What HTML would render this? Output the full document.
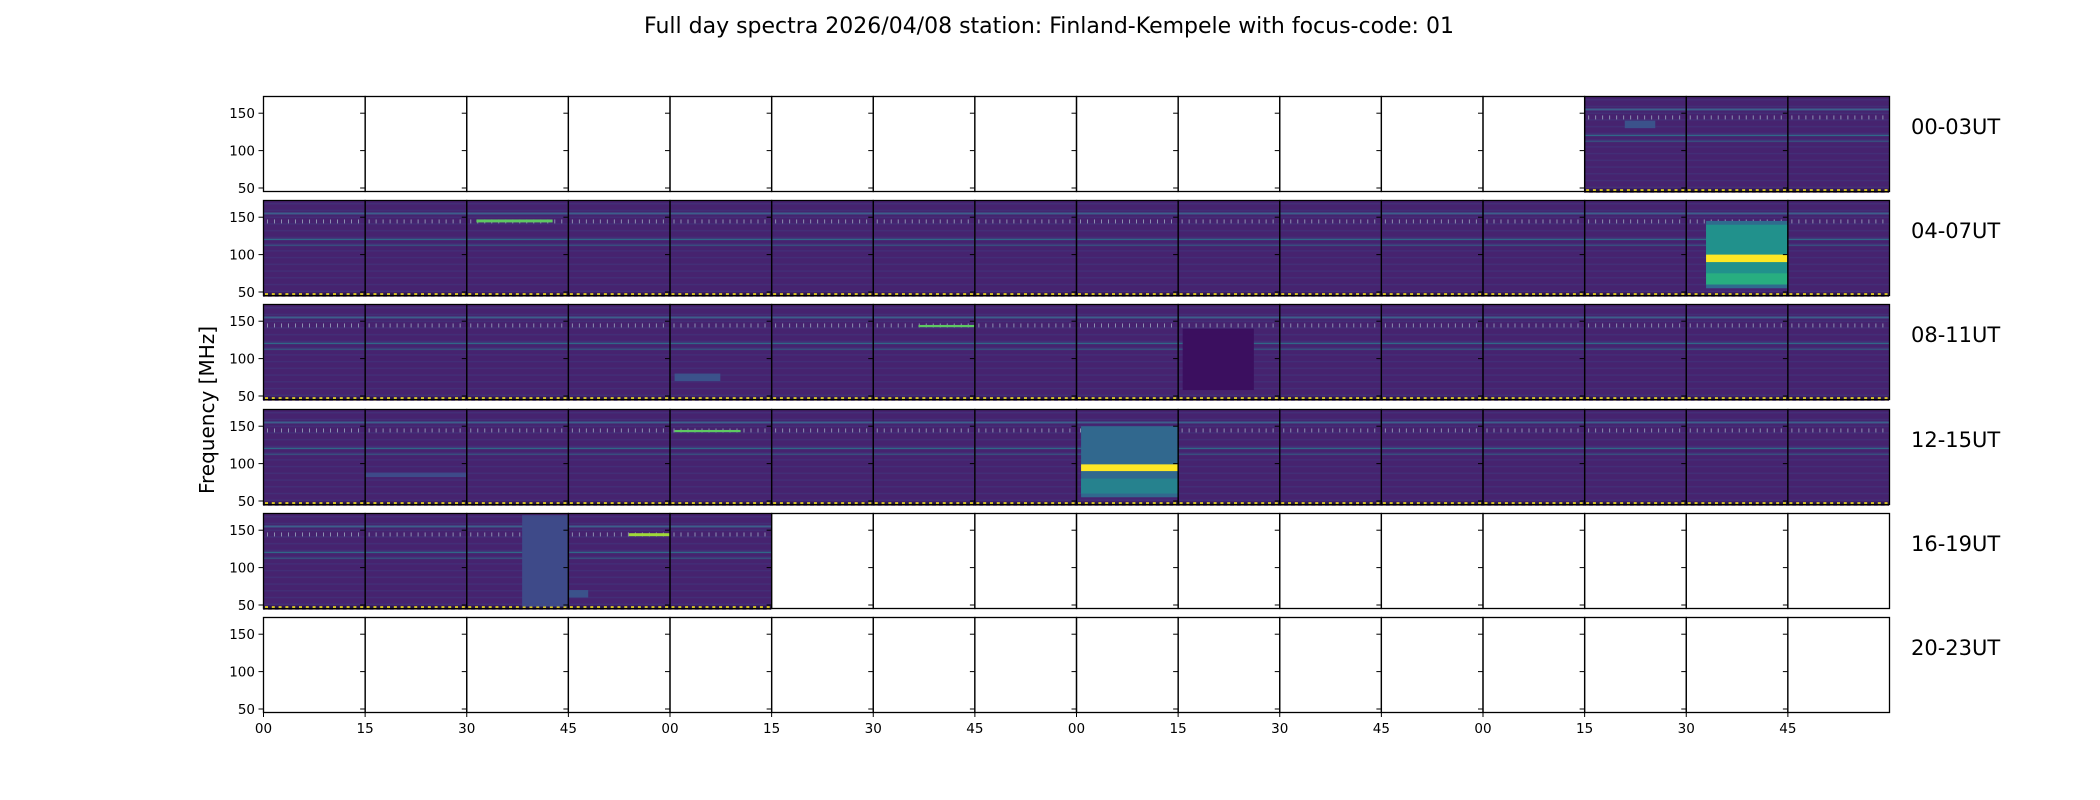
<!DOCTYPE html>
<html><head><meta charset="utf-8"><style>
html,body{margin:0;padding:0;background:#fff;}
svg{display:block;font-family:"DejaVu Sans","Liberation Sans",sans-serif;}
</style></head><body>
<svg id="chart" width="2100" height="800" viewBox="0 0 2100 800" xmlns="http://www.w3.org/2000/svg">
<text x="1049" y="33" font-size="22" text-anchor="middle">Full day spectra 2026/04/08 station: Finland-Kempele with focus-code: 01</text>
<text x="0" y="0" font-size="20" text-anchor="middle" transform="translate(214,410) rotate(-90)">Frequency [MHz]</text>
<g id="plots"></g>
</svg>
<script>
// ---- data ----
const rowLabels = ["00-03UT","04-07UT","08-11UT","12-15UT","16-19UT","20-23UT"];
const filledPanels = [[13,14,15],[0,1,2,3,4,5,6,7,8,9,10,11,12,13,14,15],[0,1,2,3,4,5,6,7,8,9,10,11,12,13,14,15],[0,1,2,3,4,5,6,7,8,9,10,11,12,13,14,15],[0,1,2,3,4],[]];
const yTicks = [50,100,150];
const xTickLabels = ["00","15","30","45","00","15","30","45","00","15","30","45","00","15","30","45"];
const rfiFreqs = [155,120,112];
// bursts: row, panel, x-start fraction, x-end fraction, freq lo, freq hi, color
const burstRow = [1,1,1,1,3,3,3,2,2,3,4,4,4,0,2,1,3];
const burstPanel = [14,14,14,14,8,8,8,6,9,4,3,2,3,13,4,2,1];
const burstX0 = [0.2,0.2,0.2,0.2,0.05,0.05,0.05,0.45,0.05,0.05,0.6,0.55,0.0,0.4,0.05,0.1,0.0];
const burstX1 = [1,1,1,1,1,1,1,1,0.75,0.7,1,1,0.2,0.7,0.5,0.85,1];
const burstLo = [55,70,90,60,55,90,60,142,58,142,142,48,60,130,70,143,82];
const burstHi = [145,140,100,75,150,99,80,145,140,145,146,170,70,140,80,147,88];
const burstColor = ["#2f6b8e","#21918c","#fde725","#28ae80","#31688e","#fde725","#26828e","#5ec962","#3b0f5f","#5ec962","#a0da39","#3e4a89","#3b528b","#3b528b","#3b528b","#5ec962","#3e4a89"];

// ---- layout ----
const X0 = 263, X1 = 1889, NP = 16, PW = (X1 - X0) / NP;
const rowTops = [96,200,304,409,513,617], RH = 95;
const FMIN = 46, FMAX = 173;
function yScale(row, f){ return rowTops[row] + RH - (f - FMIN) / (FMAX - FMIN) * RH; }
function xScale(p, frac){ return X0 + (p + frac) * PW; }

const NS = "http://www.w3.org/2000/svg";
const g = document.getElementById("plots");
function el(tag, attrs, parent){ const e = document.createElementNS(NS, tag); for (const k in attrs) e.setAttribute(k, attrs[k]); (parent||g).appendChild(e); return e; }

rowLabels.forEach((lab, r) => {
  filledPanels[r].forEach(p => {
    const x = xScale(p, 0), y = rowTops[r];
    const bg = el("rect", {x:x, y:y, width:PW, height:RH, fill:"#46236f"});
    
    
    for (let f = 52; f < 170; f += 9) {
      el("rect", {x:x, y:yScale(r, f), width:PW, height:1.5, fill:"#3f3a80", opacity:0.5});
    }
    rfiFreqs.forEach((f, i) => {
      const ln = el("rect", {x:x, y:yScale(r, f) - 1, width:PW, height: i === 0 ? 2 : 1.5, fill: i === 0 ? "#3b6d92" : "#2a788e", opacity: i === 2 ? 0.5 : 0.8});
      
      
    });
    for (let k = 0; k < 14; k++) {
      el("rect", {x:x + 4 + k * 7, y:yScale(r, 147), width:1, height:4, fill:"#8a8fb0"});
    }
    el("rect", {x:x, y:yScale(r, 49), width:PW, height:4, fill:"#2d1a52"});
    for (let k = 0; k < 15; k++) {
      const d = el("rect", {x:x + 2 + k * 6.8, y:yScale(r, 49) + 0.5, width:3, height:3, fill:"#fde725"});
      
      
    }
  });
  burstRow.forEach((br, i) => {
    if (br !== r) return;
    const p = burstPanel[i];
    const b = el("rect", {x:xScale(p, burstX0[i]), y:yScale(r, burstHi[i]), width:(burstX1[i]-burstX0[i])*PW, height:yScale(r, burstLo[i]) - yScale(r, burstHi[i]), fill:burstColor[i]});
    
    
  });
  for (let p = 0; p < NP; p++) {
    const x = xScale(p, 0), y = rowTops[r];
    const fr = el("rect", {x:x + 0.5, y:y + 0.5, width:PW, height:RH, fill:"none", stroke:"#000", "stroke-width":1.3});
    
    
    yTicks.forEach(t => {
      el("line", {x1:x - 4.5, x2:x, y1:yScale(r, t), y2:yScale(r, t), stroke:"#000", "stroke-width":1});
    });
    if (r === rowLabels.length - 1) {
      el("line", {x1:x + 0.5, x2:x + 0.5, y1:y + RH, y2:y + RH + 5, stroke:"#000", "stroke-width":1});
      const tl = el("text", {x:x + 0.5, y:y + RH + 21, "font-size":13.5, "text-anchor":"middle"});
      tl.textContent = xTickLabels[p];
      
      
    }
  }
  yTicks.forEach(t => {
    const yl = el("text", {x:X0 - 8, y:yScale(r, t) + 5, "font-size":13.5, "text-anchor":"end"});
    yl.textContent = t;
    
    
  });
  const rl = el("text", {x:1911, y:rowTops[r] + 38, "font-size":21});
  rl.textContent = lab;
  
  
});
</script>
</body></html>
